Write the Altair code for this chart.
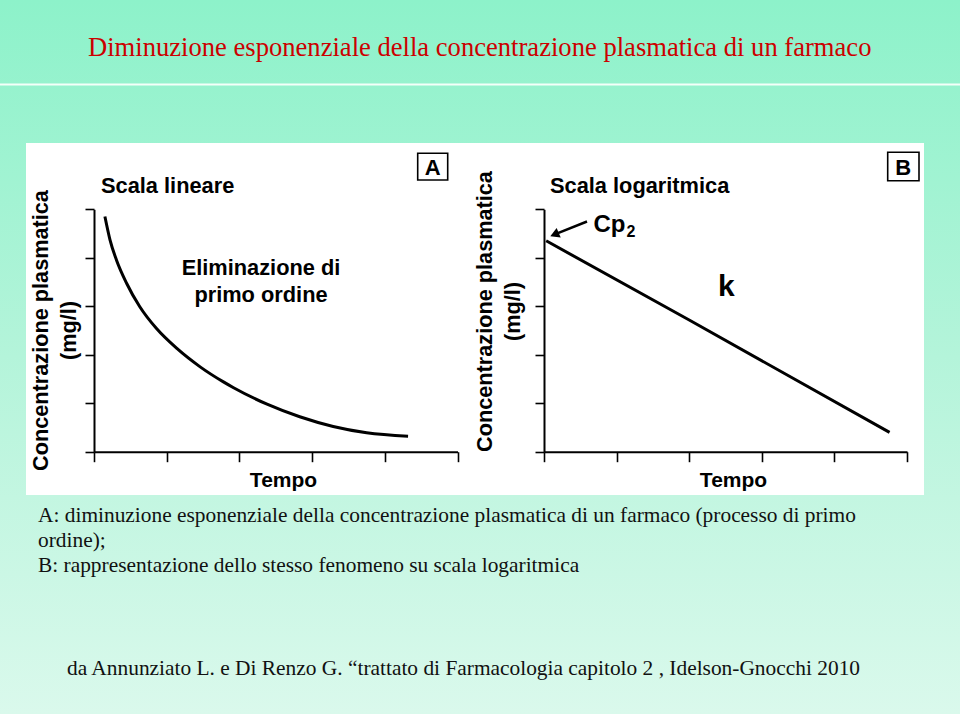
import altair as alt
import pandas as pd

# ---------------- data ----------------
# Panel A (linear scale): first-order elimination curve
time_a = [0.15, 0.22, 0.31, 0.45, 0.63, 0.86, 1.14, 1.46, 1.78, 1.92, 2.38, 2.83, 3.29, 3.75, 4.32]
conc_a = [4.85, 4.37, 3.95, 3.47, 2.99, 2.54, 2.13, 1.75, 1.44, 1.32, 0.98, 0.72, 0.52, 0.39, 0.32]

# Panel B (logarithmic scale): the same process, a straight line
time_b = [0.03, 2.0, 4.76]
conc_b = [22400, 520, 2.5]

# tick positions (no labels are shown)
ticks_x = [0, 1, 2, 3, 4, 5]
ticks_y_lin = [0, 1, 2, 3, 4, 5]
ticks_y_log = [1, 10, 100, 1000, 10000, 100000]

title_text = "Diminuzione esponenziale della concentrazione plasmatica di un farmaco"
caption_lines = [
    "A: diminuzione esponenziale della concentrazione plasmatica di un farmaco (processo di primo",
    "ordine);",
    "B: rappresentazione dello stesso fenomeno su scala logaritmica",
]
source_text = "da Annunziato L. e Di Renzo G. \u201ctrattato di Farmacologia capitolo 2 , Idelson-Gnocchi 2010"
y_title = ["Concentrazione plasmatica", "(mg/l)"]
x_title = "Tempo"

# ---------------- layout ----------------
W, H = 960, 714
AX_BOTTOM, AX_TOP = 451.7, 209.3
A_LEFT, A_RIGHT = 94, 457.5
B_LEFT, B_RIGHT = 544, 907
SANS = "Liberation Sans"
SERIF = "Liberation Serif"

df_a = pd.DataFrame({"t": time_a, "c": conc_a})
df_b = pd.DataFrame({"t": time_b, "c": conc_b})
one = alt.Data(values=[{"k": 1}])


def common_axis(**kw):
    base = dict(labels=False, grid=False, domainColor="black", domainWidth=2,
                tickColor="black", tickWidth=1.6, zindex=2,
                titleFont=SANS, titleFontWeight="bold", titleColor="black")
    base.update(kw)
    return alt.Axis(**base)


def xaxis(tx):
    return common_axis(orient="bottom", offset=AX_BOTTOM - H, values=ticks_x, tickSize=10,
                       title=x_title, titleFontSize=21, titleX=tx, titleY=35,
                       titleAlign="center", titleBaseline="alphabetic", titleAngle=0)


def yaxis(left, vals, tx, ty):
    return common_axis(orient="left", offset=-left, values=vals, tickSize=9,
                       title=y_title, titleFontSize=21.7, titleAngle=270,
                       titleX=tx, titleY=ty, titleAlign="center",
                       titleBaseline="alphabetic", titleLineHeight=28)


def txt(s, x, y, size, align="left", weight="bold", font=SANS, color="black", lh=None):
    kw = dict(align=align, baseline="alphabetic", font=font, fontSize=size,
              fontWeight=weight, color=color)
    if lh is not None:
        kw["lineHeight"] = lh
    return alt.Chart(one).mark_text(**kw).encode(
        x=alt.value(x), y=alt.value(y), text=alt.value(s))


# background gradient
bg = alt.Chart(one).mark_rect(
    color=alt.LinearGradient(gradient="linear", x1=0, x2=0, y1=0, y2=1,
                             stops=[alt.GradientStop(color="#8DF2CA", offset=0),
                                    alt.GradientStop(color="#B4F4DA", offset=0.5),
                                    alt.GradientStop(color="#DAF9EC", offset=1)])
).encode(x=alt.value(0), x2=alt.value(W), y=alt.value(0), y2=alt.value(H))

sep = alt.Chart(one).mark_rule(color="#F4FFF9", strokeWidth=2).encode(
    x=alt.value(0), x2=alt.value(W), y=alt.value(84.5))

panel = alt.Chart(one).mark_rect(color="white").encode(
    x=alt.value(26), x2=alt.value(924), y=alt.value(143), y2=alt.value(495))

# panel A line
line_a = alt.Chart(df_a).mark_line(color="black", strokeWidth=3, interpolate="monotone").encode(
    x=alt.X("t:Q", scale=alt.Scale(domain=[0, 5], range=[A_LEFT, A_RIGHT], nice=False),
            axis=xaxis(283)),
    y=alt.Y("c:Q", scale=alt.Scale(domain=[0, 5], range=[AX_BOTTOM, AX_TOP], nice=False),
            axis=yaxis(A_LEFT, ticks_y_lin, 47.5 - A_LEFT, 330)),
)

# panel B line (log scale)
line_b = alt.Chart(df_b).mark_line(color="black", strokeWidth=3).encode(
    x=alt.X("t:Q", scale=alt.Scale(domain=[0, 5], range=[B_LEFT, B_RIGHT], nice=False),
            axis=xaxis(733)),
    y=alt.Y("c:Q", scale=alt.Scale(type="log", domain=[1, 100000], range=[AX_BOTTOM, AX_TOP], nice=False),
            axis=yaxis(B_LEFT, ticks_y_log, 491.5 - B_LEFT, 311)),
)

# boxes with panel letters
box_a = alt.Chart(one).mark_rect(fill="white", stroke="black", strokeWidth=1.6).encode(
    x=alt.value(417.7), x2=alt.value(447.7), y=alt.value(153.3), y2=alt.value(180))
box_b = alt.Chart(one).mark_rect(fill="white", stroke="black", strokeWidth=1.6).encode(
    x=alt.value(887.7), x2=alt.value(919), y=alt.value(152.3), y2=alt.value(180.7))

# arrow to Cp2
arrow_line = alt.Chart(one).mark_rule(color="black", strokeWidth=2.5).encode(
    x=alt.value(556), x2=alt.value(587), y=alt.value(233.8), y2=alt.value(221.5))
arrow_head = alt.Chart(one).mark_point(shape="triangle-right", filled=True, color="black",
                                       size=110, angle=157, opacity=1).encode(
    x=alt.value(554.5), y=alt.value(234.5))

SERIF_COLOR = "#111111"
layers = [
    bg, sep, panel,
    txt(title_text, 88, 56, 26.6, weight="normal", font=SERIF, color="#CC0000"),
    line_a, line_b,
    txt("Scala lineare", 101, 193.3, 21.8),
    txt(["Eliminazione di", "primo ordine"], 261, 275, 21.8, align="center", lh=26.7),
    box_a, txt("A", 432.7, 175, 22, align="center"),
    txt("Scala logaritmica", 550, 193.3, 21.8),
    box_b, txt("B", 903.3, 174.5, 22, align="center"),
    arrow_line, arrow_head,
    txt("Cp", 593.5, 231.7, 24), txt("2", 626.5, 237.3, 16),
    txt("k", 718, 296, 30),
    txt(caption_lines[0], 38, 522.3, 21.4, weight="normal", font=SERIF, color=SERIF_COLOR),
    txt(caption_lines[1], 38, 546.7, 21.4, weight="normal", font=SERIF, color=SERIF_COLOR),
    txt(caption_lines[2], 38, 572.3, 21.4, weight="normal", font=SERIF, color=SERIF_COLOR),
    txt(source_text, 67, 675, 21.4, weight="normal", font=SERIF, color=SERIF_COLOR),
]

chart = alt.layer(*layers).resolve_scale(
    x="independent", y="independent"
).resolve_axis(
    x="independent", y="independent"
).properties(
    width=W, height=H, autosize=alt.AutoSizeParams(type="none"), padding=0,
    background="#DAF9EC"
).configure_view(stroke=None)

chart.save("out.html", embed_options={"renderer": "svg", "actions": False})
